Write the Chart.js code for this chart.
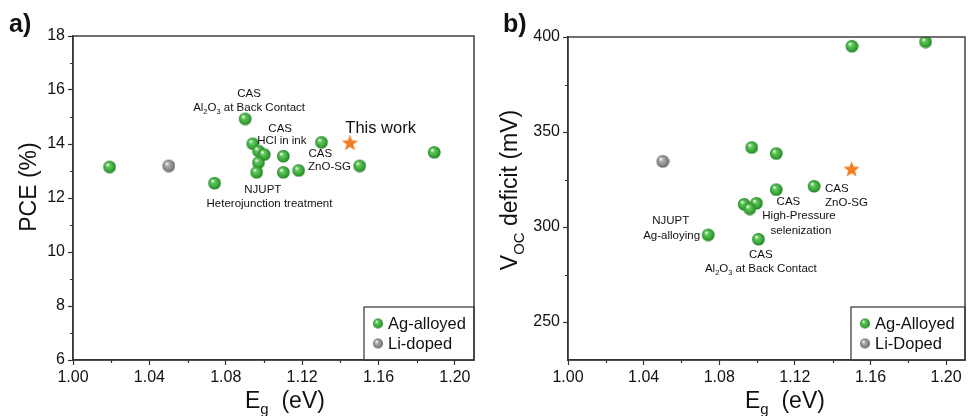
<!DOCTYPE html>
<html>
<head>
<meta charset="utf-8">
<script src="https://cdn.jsdelivr.net/npm/chart.js@4.4.1/dist/chart.umd.min.js"></script>
<style>
body { margin: 0; background: #fff; }
.panel { position: absolute; top: 0; width: 485px; height: 416px; }
</style>
</head>
<body>
<div class="panel" style="left:0"><canvas id="chartA" width="485" height="416"></canvas></div>
<div class="panel" style="left:485px"><canvas id="chartB" width="485" height="416"></canvas></div>
<script>
// ---- données ----
const egTicks = [1.00, 1.02, 1.04, 1.06, 1.08, 1.10, 1.12, 1.14, 1.16, 1.18, 1.20];
const egTickLabels = ['1.00', '', '1.04', '', '1.08', '', '1.12', '', '1.16', '', '1.20'];
const pceTicks = [6, 7, 8, 9, 10, 11, 12, 13, 14, 15, 16, 17, 18];
const pceTickLabels = ['6', '', '8', '', '10', '', '12', '', '14', '', '16', '', '18'];
const vocTicks = [250, 275, 300, 325, 350, 375, 400];
const vocTickLabels = ['250', '', '300', '', '350', '', '400'];

// a) PCE vs Eg
const agEgA  = [1.019, 1.074, 1.090, 1.094, 1.097, 1.100, 1.097, 1.096, 1.110, 1.110, 1.118, 1.130, 1.150, 1.189];
const agPceA = [13.16, 12.56, 14.94, 14.02, 13.75, 13.62, 13.32, 12.96, 13.56, 12.96, 13.03, 14.07, 13.20, 13.70];
const liEgA  = [1.050];
const liPceA = [13.20];
const thisEgA  = [1.145];
const thisPceA = [14.06];

// b) Voc deficit vs Eg
const agEgB  = [1.097, 1.110, 1.150, 1.189, 1.110, 1.130, 1.093, 1.0995, 1.096, 1.074, 1.1006];
const agVocB = [342.0, 338.8, 395.3, 397.6, 319.8, 321.6, 312.1, 312.6, 309.7, 296.0, 293.7];
const liEgB  = [1.050];
const liVocB = [334.7];
const thisEgB  = [1.150];
const thisVocB = [330.7];

// étiquettes (texte, position en unités des axes)
const notesA = [
    { t: 'CAS', x: 1.0922, y: 15.91 },
    { t: 'Al_{2}O_{3} at Back Contact', x: 1.0922, y: 15.38 },
    { t: 'This work', x: 1.1426, y: 14.64, size: 16.5, align: 'left' },
    { t: 'CAS', x: 1.1085, y: 14.59 },
    { t: 'HCl in ink', x: 1.1094, y: 14.15 },
    { t: 'CAS', x: 1.1295, y: 13.67 },
    { t: 'ZnO-SG', x: 1.1343, y: 13.19 },
    { t: 'NJUPT', x: 1.0994, y: 12.33 },
    { t: 'Heterojunction treatment', x: 1.1029, y: 11.81 }
];
const notesB = [
    { t: 'NJUPT', x: 1.0543, y: 303.5 },
    { t: 'Ag-alloying', x: 1.0548, y: 296.0 },
    { t: 'CAS', x: 1.1166, y: 313.5 },
    { t: 'High-Pressure', x: 1.1222, y: 306.2 },
    { t: 'selenization', x: 1.1232, y: 298.6 },
    { t: 'CAS', x: 1.1422, y: 320.5 },
    { t: 'ZnO-SG', x: 1.1473, y: 313.2 },
    { t: 'CAS', x: 1.1020, y: 286.0 },
    { t: 'Al_{2}O_{3} at Back Contact', x: 1.1020, y: 278.4 }
];

const FONT = '"Liberation Sans", Arial, Helvetica, sans-serif';
Chart.defaults.font.family = FONT;
Chart.defaults.color = '#111';

// ---- marqueurs (images) ----
function sphere(r, light, mid, dark) {
    const c = document.createElement('canvas');
    c.width = c.height = 2 * r + 2;
    const g = c.getContext('2d');
    const m = r + 1;
    const grd = g.createRadialGradient(m - r * 0.35, m - r * 0.4, r * 0.05, m, m, r);
    grd.addColorStop(0, '#ffffff');
    grd.addColorStop(0.28, light);
    grd.addColorStop(0.72, mid);
    grd.addColorStop(1, dark);
    g.fillStyle = grd;
    g.beginPath();
    g.arc(m, m, r, 0, Math.PI * 2);
    g.fill();
    return c;
}
function star(R, color) {
    const c = document.createElement('canvas');
    c.width = c.height = 2 * R + 2;
    const g = c.getContext('2d');
    const m = R + 1;
    g.beginPath();
    for (let i = 0; i < 10; i++) {
        const rr = i % 2 ? R * 0.42 : R;
        const a = -Math.PI / 2 + i * Math.PI / 5;
        g.lineTo(m + rr * Math.cos(a), m + 1 + rr * Math.sin(a));
    }
    g.closePath();
    g.fillStyle = color;
    g.fill();
    return c;
}
const greenDot = sphere(6.3, '#62c85c', '#38a838', '#237a27');
const greyDot = sphere(6.3, '#b0b0b0', '#8a8a8a', '#5a5a5a');
const greenSmall = sphere(5, '#62c85c', '#38a838', '#237a27');
const greySmall = sphere(5, '#b0b0b0', '#8a8a8a', '#5a5a5a');
const orangeStar = star(8.5, '#f07d22');

// ---- texte avec indices ----
function parseRich(s) {
    const out = [];
    const re = /_\{([^}]*)\}/g;
    let last = 0, m;
    while ((m = re.exec(s)) !== null) {
        if (m.index > last) out.push([s.slice(last, m.index), false]);
        out.push([m[1], true]);
        last = re.lastIndex;
    }
    if (last < s.length) out.push([s.slice(last), false]);
    return out;
}
function drawRich(ctx, text, x, y, size, align, weight) {
    const segs = parseRich(text);
    const fw = weight || 'normal';
    const subSize = size * 0.65;
    let w = 0;
    segs.forEach(s => {
        ctx.font = fw + ' ' + (s[1] ? subSize : size) + 'px ' + FONT;
        s.push(ctx.measureText(s[0]).width);
        w += s[2];
    });
    let cx = align === 'left' ? x : align === 'right' ? x - w : x - w / 2;
    const base = y + size * 0.36;
    ctx.textAlign = 'left';
    ctx.textBaseline = 'alphabetic';
    segs.forEach(s => {
        ctx.font = fw + ' ' + (s[1] ? subSize : size) + 'px ' + FONT;
        ctx.fillText(s[0], cx, s[1] ? base + size * 0.28 : base);
        cx += s[2];
    });
}

// ---- plugin : cadre, petites graduations, étiquettes, titres, légende ----
const decorPlugin = {
    id: 'decor',
    afterDraw(chart, args, opts) {
        const ctx = chart.ctx;
        const a = chart.chartArea;
        const xs = chart.scales.x, ys = chart.scales.y;
        ctx.save();

        // petites graduations (sans libellé)
        ctx.strokeStyle = '#333';
        ctx.lineWidth = 1.2;
        ctx.beginPath();
        xs.ticks.forEach(t => {
            if (t.label) return;
            const px = Math.round(xs.getPixelForValue(t.value)) + 0.5;
            ctx.moveTo(px, a.bottom);
            ctx.lineTo(px, a.bottom + 3);
        });
        ys.ticks.forEach(t => {
            if (t.label) return;
            const py = Math.round(ys.getPixelForValue(t.value)) + 0.5;
            ctx.moveTo(a.left, py);
            ctx.lineTo(a.left - 3, py);
        });
        ctx.stroke();

        // notes
        ctx.fillStyle = '#111';
        opts.notes.forEach(n => {
            drawRich(ctx, n.t, xs.getPixelForValue(n.x), ys.getPixelForValue(n.y), n.size || 11.5, n.align || 'center');
        });

        // légende
        const lx = a.right - opts.legendW, ly = a.bottom - opts.legendH;
        ctx.fillStyle = '#fff';
        ctx.fillRect(lx, ly, opts.legendW, opts.legendH);
        ctx.strokeStyle = '#333';
        ctx.lineWidth = 1.2;
        ctx.strokeRect(lx, ly, opts.legendW, opts.legendH);
        ctx.fillStyle = '#111';
        let iy = ly + 16.5;
        chart.data.datasets.forEach(ds => {
            if (!ds.legendIcon) return;
            const img = ds.legendIcon;
            ctx.drawImage(img, lx + 14 - img.width / 2, iy - img.height / 2);
            drawRich(ctx, ds.label, lx + 24, iy, 16.5, 'left');
            iy += 20;
        });

        // cadre
        ctx.strokeStyle = '#333';
        ctx.lineWidth = 1.4;
        ctx.strokeRect(a.left, a.top, a.right - a.left, a.bottom - a.top);

        // titres d'axes
        ctx.fillStyle = '#111';
        drawRich(ctx, opts.xTitle, opts.xTitleX, 399.5, 23, 'left');
        ctx.save();
        ctx.translate(opts.yTitleX, opts.yTitleY);
        ctx.rotate(-Math.PI / 2);
        drawRich(ctx, opts.yTitle, 0, 0, 23, 'center');
        ctx.restore();

        // lettre du panneau
        drawRich(ctx, opts.letter, opts.letterX, 23, 25, 'left', 'bold');
        ctx.restore();
    }
};

function axis(ticks, labels, min, max, fitKey, fitSize) {
    return {
        type: 'linear',
        min: min,
        max: max,
        afterBuildTicks: s => { s.ticks = ticks.map(v => ({ value: v })); },
        afterFit: s => { s[fitKey] = fitSize; },
        ticks: {
            autoSkip: false,
            maxRotation: 0,
            padding: 3,
            color: '#111',
            font: { size: 16 },
            callback: (v, i) => labels[i]
        },
        grid: {
            drawOnChartArea: false,
            drawTicks: true,
            tickLength: 5,
            tickColor: c => (labels[c.index] ? '#333' : 'rgba(0,0,0,0)'),
            tickWidth: 1.2
        },
        border: { display: true, color: '#333', width: 1.4 }
    };
}

function points(xs, ys) {
    return xs.map((v, i) => ({ x: v, y: ys[i] }));
}

// ---- graphique a) ----
new Chart(document.getElementById('chartA'), {
    type: 'scatter',
    data: {
        datasets: [
            { label: 'Ag-alloyed', data: points(agEgA, agPceA), pointStyle: greenDot, legendIcon: greenSmall },
            { label: 'Li-doped', data: points(liEgA, liPceA), pointStyle: greyDot, legendIcon: greySmall },
            { label: 'This work', data: points(thisEgA, thisPceA), pointStyle: orangeStar }
        ]
    },
    options: {
        responsive: false,
        animation: false,
        devicePixelRatio: 1,
        layout: { padding: { top: 36, right: 11, left: 0, bottom: 0 } },
        scales: {
            x: axis(egTicks, egTickLabels, 1.0, 1.21, 'height', 56),
            y: axis(pceTicks, pceTickLabels, 6, 18, 'width', 73)
        },
        plugins: {
            legend: { display: false },
            tooltip: { enabled: false },
            decor: {
                notes: notesA,
                legendW: 110, legendH: 53,
                xTitle: 'E_{g}  (eV)', xTitleX: 245,
                yTitle: 'PCE (%)', yTitleX: 28, yTitleY: 187,
                letter: 'a)', letterX: 9
            }
        }
    },
    plugins: [decorPlugin]
});

// ---- graphique b) ----
new Chart(document.getElementById('chartB'), {
    type: 'scatter',
    data: {
        datasets: [
            { label: 'Ag-Alloyed', data: points(agEgB, agVocB), pointStyle: greenDot, legendIcon: greenSmall },
            { label: 'Li-Doped', data: points(liEgB, liVocB), pointStyle: greyDot, legendIcon: greySmall },
            { label: 'This work', data: points(thisEgB, thisVocB), pointStyle: orangeStar }
        ]
    },
    options: {
        responsive: false,
        animation: false,
        devicePixelRatio: 1,
        layout: { padding: { top: 37, right: 2, left: 0, bottom: 0 } },
        scales: {
            x: axis(egTicks, egTickLabels, 1.0, 1.21, 'height', 56),
            y: axis(vocTicks, vocTickLabels, 230, 400, 'width', 83)
        },
        plugins: {
            legend: { display: false },
            tooltip: { enabled: false },
            decor: {
                notes: notesB,
                legendW: 114, legendH: 53,
                xTitle: 'E_{g}  (eV)', xTitleX: 260,
                yTitle: 'V_{OC} deficit (mV)', yTitleX: 24, yTitleY: 190,
                letter: 'b)', letterX: 18
            }
        }
    },
    plugins: [decorPlugin]
});
</script>
</body>
</html>
